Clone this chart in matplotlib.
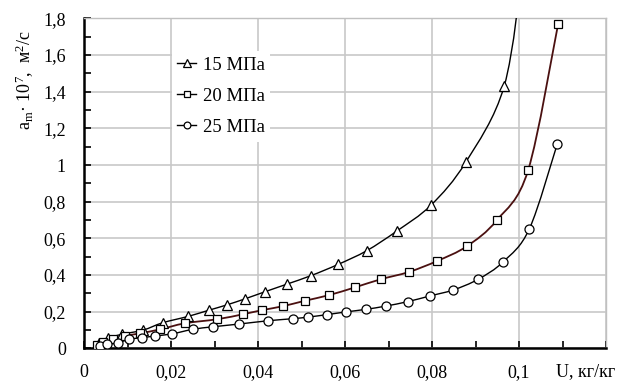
import matplotlib
matplotlib.use("Agg")
import matplotlib.pyplot as plt
from matplotlib.path import Path
from matplotlib.patches import PathPatch
from matplotlib.lines import Line2D
from matplotlib.ticker import MultipleLocator
import numpy as np

plt.rcParams.update({
    "font.family":   "Liberation Serif",
    "font.size":     13,
    "mathtext.fontset": "custom",
    "mathtext.rm":   "Liberation Serif",
    "mathtext.it":   "Liberation Serif:italic",
})

# ── data: moisture content U (kg/kg) vs a_m*1e7 (m2/s) ───────────
u_15 = [0.0035, 0.0055, 0.0087, 0.0136, 0.0181, 0.0240, 0.0288, 0.0328,
        0.0371, 0.0416, 0.0467, 0.0522, 0.0585, 0.0650, 0.0719, 0.0798,
        0.0878, 0.0966, 0.1010]
a_15 = [0.030, 0.055, 0.077, 0.100, 0.140, 0.175, 0.209, 0.237,
        0.271, 0.309, 0.351, 0.397, 0.459, 0.533, 0.640, 0.782,
        1.017, 1.431, 2.100]

u_20 = [0.0029, 0.0044, 0.0067, 0.0094, 0.0129, 0.0175, 0.0232, 0.0306,
        0.0365, 0.0410, 0.0457, 0.0508, 0.0564, 0.0623, 0.0682, 0.0747,
        0.0812, 0.0880, 0.0949, 0.1021, 0.1090]
a_20 = [0.019, 0.033, 0.050, 0.068, 0.082, 0.104, 0.137, 0.159,
        0.186, 0.209, 0.230, 0.260, 0.291, 0.333, 0.377, 0.417,
        0.477, 0.557, 0.699, 0.972, 1.770]

u_25 = [0.0037, 0.0052, 0.0079, 0.0104, 0.0133, 0.0163, 0.0202, 0.0250,
        0.0297, 0.0357, 0.0424, 0.0480, 0.0516, 0.0558, 0.0602, 0.0648,
        0.0694, 0.0744, 0.0795, 0.0849, 0.0906, 0.0964, 0.1024, 0.1088]
a_25 = [0.015, 0.022, 0.031, 0.050, 0.058, 0.068, 0.079, 0.104,
        0.118, 0.133, 0.151, 0.162, 0.171, 0.184, 0.199, 0.213,
        0.231, 0.255, 0.286, 0.319, 0.377, 0.473, 0.653, 1.115]

labels  = ["15 МПа", "20 МПа", "25 МПа"]
markers = ["^", "s", "o"]
msizes  = [7, 6, 6.5]
lcolors = ["black", "#4a1010", "black"]

x_ticks = [0, 0.02, 0.04, 0.06, 0.08, 0.1, 0.12]
y_ticks = [0, 0.2, 0.4, 0.6, 0.8, 1.0, 1.2, 1.4, 1.6, 1.8]


def comma(v):
    return f"{v:g}".replace(".", ",")


def smooth_path(xs, ys):
    # Catmull-Rom style cubic Bezier through the points
    p = np.column_stack([xs, ys])
    n = len(p)
    verts = [p[0]]
    codes = [Path.MOVETO]
    for i in range(n - 1):
        p0 = p[i - 1] if i > 0 else p[i]
        p3 = p[i + 2] if i + 2 < n else p[i + 1]
        verts += [p[i] + (p[i + 1] - p0) / 6,
                  p[i + 1] - (p3 - p[i]) / 6,
                  p[i + 1]]
        codes += [Path.CURVE4] * 3
    return Path(verts, codes)


fig = plt.figure(figsize=(6.3, 3.81), dpi=100)
ax = fig.add_axes([84 / 630, 1 - 348.4 / 381, 522 / 630, 330 / 381])

series = [(u_15, a_15), (u_20, a_20), (u_25, a_25)]
for (u, a), m, ms, lc in zip(series, markers, msizes, lcolors):
    ax.add_patch(PathPatch(smooth_path(u, a), facecolor="none",
                           edgecolor=lc, lw=1.0 if lc == "black" else 1.3,
                           zorder=3))
    ax.plot(u, a, ls="none", marker=m, ms=ms, mfc="white", mec="black",
            mew=0.9, zorder=4, clip_on=True)

ax.set_xlim(0, 0.12)
ax.set_ylim(0, 1.8)
ax.set_xticks(x_ticks)
ax.set_xticklabels([comma(v) for v in x_ticks[:-1]] + [""])
ax.set_yticks(y_ticks)
ax.set_yticklabels([comma(v) for v in y_ticks])
ax.xaxis.set_minor_locator(MultipleLocator(0.01))
ax.yaxis.set_minor_locator(MultipleLocator(0.1))
ax.tick_params(which="both", direction="in", length=5, width=1.2,
               top=False, right=False)
ax.tick_params(axis="x", pad=11)
ax.tick_params(axis="y", pad=13)

ax.grid(True, which="major", color="#c8c8c8", lw=1.2)
ax.set_axisbelow(True)
for side in ("left", "bottom"):
    ax.spines[side].set_linewidth(1.8)
    ax.spines[side].set_color("black")
for side in ("top", "right"):
    ax.spines[side].set_linewidth(1.0)
    ax.spines[side].set_color("#c0c0c0")

handles = [Line2D([], [], color="black", lw=1.0, marker=m, ms=ms * 0.75,
                  mfc="white", mec="black", mew=0.9)
           for m, ms in zip(markers, msizes)]
ax.legend(handles, labels, loc="upper left", bbox_to_anchor=(0.15, 0.93),
          frameon=True, fancybox=False, edgecolor="none", facecolor="white",
          framealpha=1, handlelength=1.0, handletextpad=0.35,
          labelspacing=0.75, borderpad=0.3, fontsize=13.5)

fig.text(0.93, 1 - 372 / 381, "U, кг/кг", ha="center", va="center",
         fontsize=13)
fig.text(25 / 630, 1 - 80 / 381, r"a$_\mathrm{m}$· 10$^7$,  м$^2$/с",
         rotation=90, ha="center", va="center", fontsize=13)

fig.savefig("out.png", dpi=100)
